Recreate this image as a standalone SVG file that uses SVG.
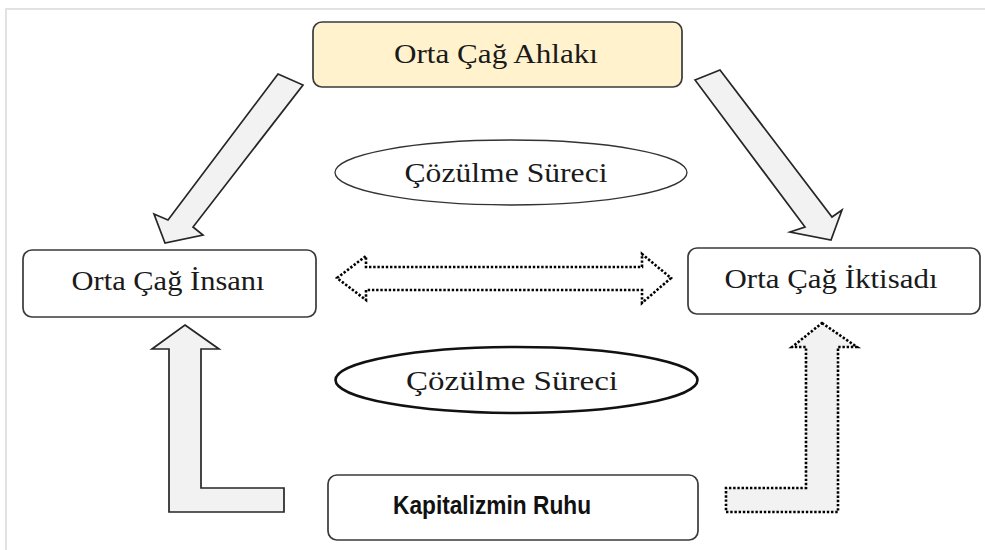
<svg xmlns="http://www.w3.org/2000/svg" width="985" height="550" viewBox="0 0 985 550">
<style>
.frame{stroke:#d9d9d9;stroke-width:1.5;fill:none}
.box{fill:#ffffff;stroke:#3a3a3a;stroke-width:1.7}
.top{fill:#fff2cc}
.lbl{font-family:"Liberation Serif","Times New Roman",serif;font-size:27px;fill:#1a1a1a;text-anchor:middle}
.bold{font-family:"Liberation Sans",Arial,sans-serif;font-weight:bold;font-size:25px;fill:#111;text-anchor:middle}
.arrow{fill:#f2f2f2;stroke:#262626;stroke-width:1.7;stroke-linejoin:miter}
.dot{fill:#ffffff;stroke:#000;stroke-width:2.6;stroke-dasharray:2.4 1.8}
.dotg{fill:#f2f2f2;stroke:#000;stroke-width:2.6;stroke-dasharray:2.4 1.8}
</style>
<rect width="985" height="550" fill="#ffffff"/>
<path class="frame" d="M6,550 V9 H985"/>
<g id="connectors">
  <polygon class="arrow" points="278,74 303,85 193,227 203,235 165,243 154,214 168,220"/>
  <polygon class="arrow" points="695,80 720,70 832,217 842,210 831,240 790,232 805,227"/>
  <polygon class="dot" points="337,278 366,256 366,267 642,267 642,254 671,278 642,303 642,290 366,290 366,300"/>
  <polygon class="arrow" points="185,325 219,349 201,349 201,488 284,488 284,512 169,512 169,349 152,349"/>
  <polygon class="dotg" points="822,323 857,347 838,347 838,512 726,512 726,488 806,488 806,347 792,347"/>
</g>
<g id="node-ahlak">
  <rect class="box top" x="313" y="22" width="369" height="65" rx="9"/>
  <text class="lbl" x="496" y="63" textLength="204" lengthAdjust="spacingAndGlyphs">Orta Çağ Ahlakı</text>
</g>
<g id="node-insan">
  <rect class="box" x="23" y="250" width="293" height="67" rx="9"/>
  <text class="lbl" x="168" y="290" textLength="193" lengthAdjust="spacingAndGlyphs">Orta Çağ İnsanı</text>
</g>
<g id="node-iktisat">
  <rect class="box" x="688" y="248" width="292" height="66" rx="9"/>
  <text class="lbl" x="831" y="288" textLength="213" lengthAdjust="spacingAndGlyphs">Orta Çağ İktisadı</text>
</g>
<g id="node-ruh">
  <rect class="box" x="328" y="475" width="370" height="65" rx="9"/>
  <text class="bold" x="492" y="514" textLength="198" lengthAdjust="spacingAndGlyphs">Kapitalizmin Ruhu</text>
</g>
<g id="node-cozulme1">
  <ellipse cx="511" cy="172.5" rx="176" ry="32.5" fill="#ffffff" stroke="#333" stroke-width="1.3"/>
  <text class="lbl" x="506" y="182" textLength="203" lengthAdjust="spacingAndGlyphs">Çözülme Süreci</text>
</g>
<g id="node-cozulme2">
  <ellipse cx="516.5" cy="380" rx="181" ry="33" fill="#ffffff" stroke="#111" stroke-width="2.6"/>
  <text class="lbl" x="512" y="390" textLength="212" lengthAdjust="spacingAndGlyphs">Çözülme Süreci</text>
</g>
</svg>
